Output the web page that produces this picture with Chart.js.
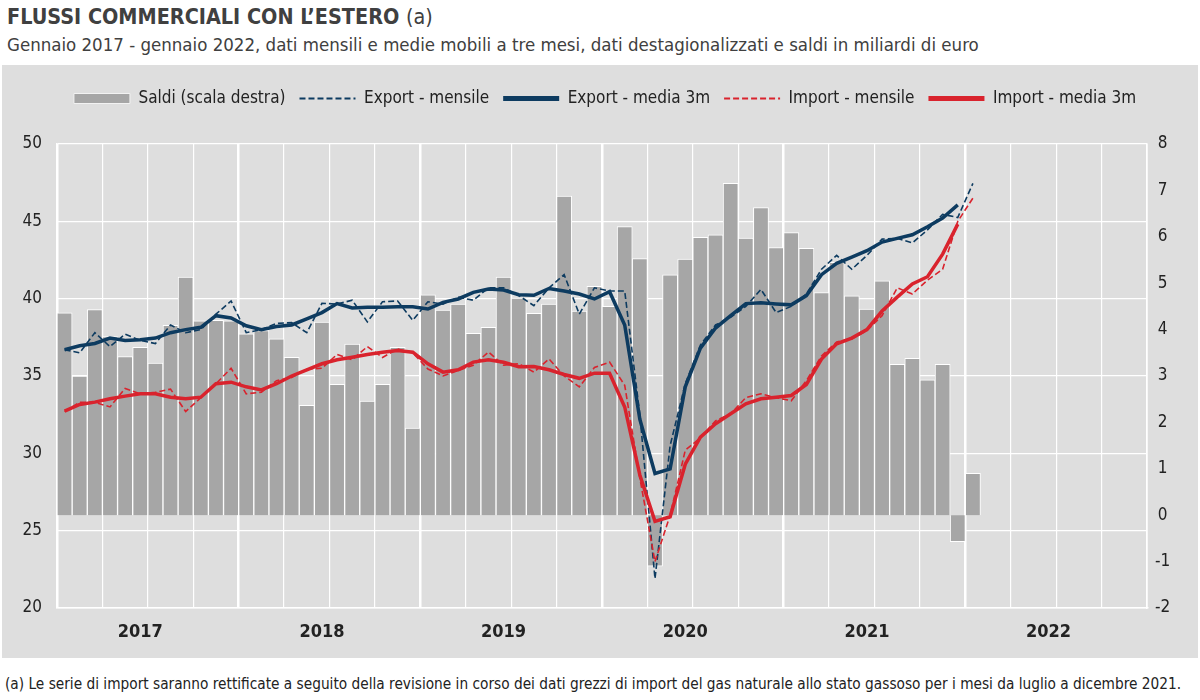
<!DOCTYPE html>
<html lang="it">
<head>
<meta charset="utf-8">
<script src="https://cdn.jsdelivr.net/npm/chart.js@4.4.0/dist/chart.umd.min.js"></script>
<style>
  body { margin: 0; width: 1200px; height: 700px; background: #fff; position: relative; overflow: hidden;
         font-family: "Liberation Sans Narrow", "Arial Narrow", "DejaVu Sans Condensed", sans-serif; color: #404040; }
  #titolo { position: absolute; left: 7px; top: 4px; font-size: 21.4px; font-weight: bold; white-space: nowrap; }
  #titolo span { font-weight: normal; }
  #sottotitolo { position: absolute; left: 7px; top: 34px; font-size: 18.5px; white-space: nowrap; }
  #pannello { position: absolute; left: 2px; top: 65px; width: 1196px; height: 593px; background: #dedede; }
  #nota { position: absolute; left: 5px; top: 675px; font-size: 15.25px; color: #222; white-space: nowrap; }
</style>
</head>
<body>
<div id="titolo">FLUSSI COMMERCIALI CON L’ESTERO <span>(a)</span></div>
<div id="sottotitolo">Gennaio 2017 - gennaio 2022, dati mensili e medie mobili a tre mesi, dati destagionalizzati e saldi in miliardi di euro</div>
<div id="pannello"><canvas id="grafico" width="1196" height="593"></canvas></div>
<div id="nota">(a) Le serie di import saranno rettificate a seguito della revisione in corso dei dati grezzi di import del gas naturale allo stato gassoso per i mesi da luglio a dicembre 2021.</div>
<script>
  // Asse temporale: gennaio 2017 - dicembre 2022
  const anni = ["2017", "2018", "2019", "2020", "2021", "2022"];
  const mesi = ["gen", "feb", "mar", "apr", "mag", "giu", "lug", "ago", "set", "ott", "nov", "dic"];

  // Saldi (scala destra), gen 2017 - gen 2022
  const saldi = [
    4.36, 3.0, 4.43, 3.85, 3.42, 3.62, 3.28, 4.09, 5.13, 4.19,
    4.2, 4.19, 3.91, 3.98, 3.8, 3.4, 2.37, 4.16, 2.82, 3.69,
    2.46, 2.82, 3.62, 1.88, 4.75, 4.42, 4.55, 3.92, 4.05, 5.13,
    4.68, 4.35, 4.55, 6.88, 4.4, 4.93, 4.5, 6.22, 5.53, -1.1,
    5.18, 5.52, 5.99, 6.04, 7.15, 5.97, 6.63, 5.77, 6.09, 5.75,
    4.8, 5.45, 4.73, 4.44, 5.05, 3.25, 3.38, 2.92, 3.25, -0.57, 0.9
  ];

  const exportMensile = [
    36.7, 36.5, 37.8, 36.9, 37.7, 37.3, 37.1, 38.3, 37.8, 38.0,
    39.0, 39.85, 37.8, 38.0, 38.4, 38.45, 37.8, 39.7, 39.65, 39.9,
    38.5, 39.8, 39.85, 38.6, 39.8, 39.65, 40.1, 39.9, 40.7, 40.7,
    40.2, 39.55, 40.7, 41.55, 39.0, 40.7, 40.5, 40.5, 32.5, 21.9,
    30.5, 34.5, 37.0, 38.3, 38.8, 39.5, 40.6, 39.1, 39.5, 40.3,
    41.9, 42.8, 41.9, 42.8, 43.85, 43.9, 43.6, 44.45, 45.45, 45.25, 47.45
  ];

  const exportMedia = [
    36.7, 36.95, 37.1, 37.45, 37.3, 37.35, 37.45, 37.8, 38.0, 38.15,
    38.9, 38.75, 38.25, 38.0, 38.2, 38.3, 38.7, 39.1, 39.68, 39.4,
    39.44, 39.44, 39.48, 39.48, 39.33, 39.76, 39.98, 40.41, 40.62, 40.56,
    40.26, 40.22, 40.66, 40.5, 40.3, 39.98, 40.45, 38.3, 32.2, 28.7,
    29.0, 34.3, 36.8, 38.1, 38.9, 39.68, 39.73, 39.66, 39.6, 40.2,
    41.55, 42.28, 42.69, 43.1, 43.66, 43.9, 44.13, 44.65, 45.21, 46.06
  ];

  const importMensile = [
    32.7, 33.3, 33.3, 33.0, 34.2, 33.85, 33.95, 34.15, 32.7, 33.6,
    34.5, 35.5, 33.85, 33.95, 34.7, 34.9, 35.45, 35.5, 36.4, 36.05,
    36.9, 36.2, 36.75, 36.5, 35.45, 35.0, 35.35, 35.7, 36.55, 35.7,
    35.8, 35.25, 36.1, 35.0, 34.3, 35.55, 35.9, 34.4, 28.4, 23.0,
    26.0, 30.2, 31.0, 32.1, 32.55, 33.6, 33.85, 33.6, 33.4, 34.7,
    36.3, 37.2, 37.4, 37.95, 38.9, 40.7, 40.3, 41.2, 41.9, 45.0, 46.5
  ];

  const importMedia = [
    32.73, 33.16, 33.31, 33.53, 33.7, 33.85, 33.85, 33.63, 33.53, 33.63,
    34.5, 34.6, 34.3, 34.1, 34.5, 35.0, 35.4, 35.79, 36.05, 36.21,
    36.39, 36.54, 36.65, 36.54, 35.79, 35.25, 35.4, 35.9, 36.05, 35.89,
    35.6, 35.61, 35.4, 35.1, 34.85, 35.18, 35.18, 33.0, 28.6, 25.6,
    25.9, 29.3, 31.05, 31.91, 32.56, 33.2, 33.53, 33.63, 33.74, 34.45,
    36.1, 37.08, 37.45, 38.0, 39.2, 40.1, 40.95, 41.42, 42.88, 44.82
  ];

  const etichette = [];
  anni.forEach((a) => mesi.forEach((m) => etichette.push(m + " " + a)));

  const font = '"Liberation Sans Narrow", "Arial Narrow", "DejaVu Sans Condensed", sans-serif';
  const blu = "#0d3b60";
  const rosso = "#d9232d";
  const bianco = "#ffffff";

  // spazio fra legenda e area del grafico, legenda spostata un po' a destra
  const spazioLegenda = {
    id: "spazioLegenda",
    beforeInit(chart) {
      const fitOrig = chart.legend.fit;
      chart.legend.fit = function () {
        fitOrig.call(this);
        this.height += 27;
      };
    },
    afterLayout(chart) {
      chart.legend.left += 5;
      chart.legend.right += 5;
    }
  };

  new Chart(document.getElementById("grafico"), {
    type: "bar",
    data: {
      labels: etichette,
      datasets: [
        {
          label: "Saldi (scala destra)",
          data: saldi,
          yAxisID: "y1",
          backgroundColor: "#a6a6a6",
          borderColor: bianco,
          borderWidth: 1,
          barPercentage: 1,
          categoryPercentage: 1,
          order: 5
        },
        {
          type: "line",
          label: "Export - mensile",
          data: exportMensile,
          borderColor: blu,
          borderWidth: 1.6,
          borderDash: [6, 3],
          pointRadius: 0,
          order: 3
        },
        {
          type: "line",
          label: "Export - media 3m",
          data: exportMedia,
          borderColor: blu,
          borderWidth: 3.5,
          pointRadius: 0,
          order: 2
        },
        {
          type: "line",
          label: "Import - mensile",
          data: importMensile,
          borderColor: rosso,
          borderWidth: 1.6,
          borderDash: [6, 3],
          pointRadius: 0,
          order: 1
        },
        {
          type: "line",
          label: "Import - media 3m",
          data: importMedia,
          borderColor: rosso,
          borderWidth: 3.5,
          pointRadius: 0,
          order: 0
        }
      ]
    },
    options: {
      responsive: false,
      animation: false,
      layout: { padding: { top: 11, left: 0, right: 0, bottom: 0 } },
      plugins: {
        tooltip: { enabled: false },
        legend: {
          position: "top",
          labels: {
            font: { family: font, size: 17 },
            color: "#222",
            padding: 14,
            usePointStyle: true,
            pointStyleWidth: 56,
            boxHeight: 10,
            generateLabels(chart) {
              return chart.data.datasets.map((ds, i) => ({
                text: ds.label,
                datasetIndex: i,
                fillStyle: ds.type === "line" ? ds.borderColor : ds.backgroundColor,
                strokeStyle: ds.type === "line" ? ds.borderColor : "#f2f2f2",
                lineWidth: ds.type === "line" ? (ds.borderDash ? 1.8 : 5) : 1,
                lineDash: ds.borderDash || [],
                pointStyle: ds.type === "line" ? "line" : "rect",
                fontColor: "#222",
                hidden: false
              }));
            }
          }
        }
      },
      scales: {
        x: {
          type: "category",
          offset: true,
          grid: {
            offset: true,
            drawTicks: false,
            color: (ctx) => {
              const i = ctx.index;
              if (i === undefined || i % 3 === 0) return bianco;
              return "rgba(0,0,0,0)";
            },
            lineWidth: (ctx) => {
              const i = ctx.index;
              if (i === undefined) return 1.5;
              if (i % 12 === 0) return 2.5;
              if (i % 3 === 0) return 1.2;
              return 0;
            }
          },
          border: { display: true, color: bianco, width: 1.5 },
          ticks: {
            autoSkip: false,
            maxRotation: 0,
            font: { family: font, size: 18, weight: "bold" },
            color: "#222",
            padding: 14,
            // anno scritto sotto giugno
            callback: (val, i) => (i % 12 === 5 ? anni[Math.floor(i / 12)] : "")
          },
          afterFit: (scale) => { scale.height = 50; }
        },
        y: {
          position: "left",
          min: 20,
          max: 50,
          ticks: { stepSize: 5, font: { family: font, size: 17 }, color: "#222", padding: 15 },
          grid: { color: bianco, lineWidth: 1.3, drawTicks: false },
          border: { display: true, color: bianco, width: 1.5 },
          afterFit: (scale) => { scale.width = 55; }
        },
        y1: {
          position: "right",
          min: -2,
          max: 8,
          ticks: { stepSize: 1, font: { family: font, size: 17 }, color: "#222", padding: 8, crossAlign: "center" },
          grid: { display: false, drawTicks: false },
          border: { display: true, color: bianco, width: 1.5 },
          afterFit: (scale) => { scale.width = 51; }
        }
      }
    },
    plugins: [spazioLegenda]
  });
</script>
</body>
</html>
